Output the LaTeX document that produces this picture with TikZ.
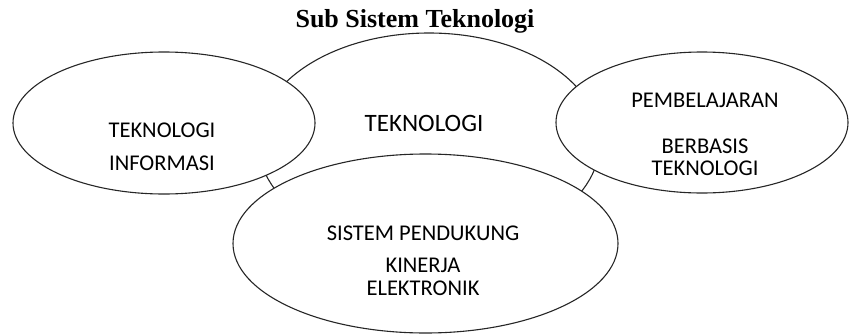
\documentclass[tikz,border=0pt]{standalone}
\usepackage{fontspec}
\setmainfont{Carlito}
\newfontfamily\titlefont{Liberation Serif}
\usetikzlibrary{shapes.geometric}
\tikzset{
  bubble/.style={draw=black!85, line width=1.1pt, fill=white, ellipse, inner sep=0pt},
  lbl/.style={anchor=base, inner sep=0pt, font=\fontsize{22.5}{22.5}\selectfont},
}
\begin{document}
\begin{tikzpicture}[x=1pt,y=-1pt]
  \useasboundingbox (0,0) rectangle (849,335);
  \node[anchor=base, inner sep=0pt, font=\titlefont\bfseries\fontsize{26}{26}\selectfont] at (415,27) (title) {Sub Sistem Teknologi};

  % ellipses, back to front
  \node[bubble, minimum width=342pt, minimum height=218pt] at (429,142) (tek) {};
  \node[bubble, minimum width=302pt, minimum height=142pt] at (164,123) (ti) {};
  \node[bubble, minimum width=292pt, minimum height=141pt] at (702,122.5) (pbt) {};
  \node[bubble, minimum width=385pt, minimum height=179pt] at (425.5,243.5) (spk) {};

  % texts
  \node[lbl, font=\fontsize{25}{25}\selectfont] at (424,131.5) (tekA) {TEKNOLOGI};
  \node[lbl] at (162,137) (tiA) {TEKNOLOGI};
  \node[lbl] at (162,170) (tiB) {INFORMASI};
  \node[lbl] at (705,107) (pbtA) {PEMBELAJARAN};
  \node[lbl] at (705,153) (pbtB) {BERBASIS};
  \node[lbl] at (705,175) (pbtC) {TEKNOLOGI};
  \node[lbl] at (423,240) (spkA) {SISTEM PENDUKUNG};
  \node[lbl] at (423,272) (spkB) {KINERJA};
  \node[lbl] at (423,295) (spkC) {ELEKTRONIK};
\end{tikzpicture}
\end{document}
